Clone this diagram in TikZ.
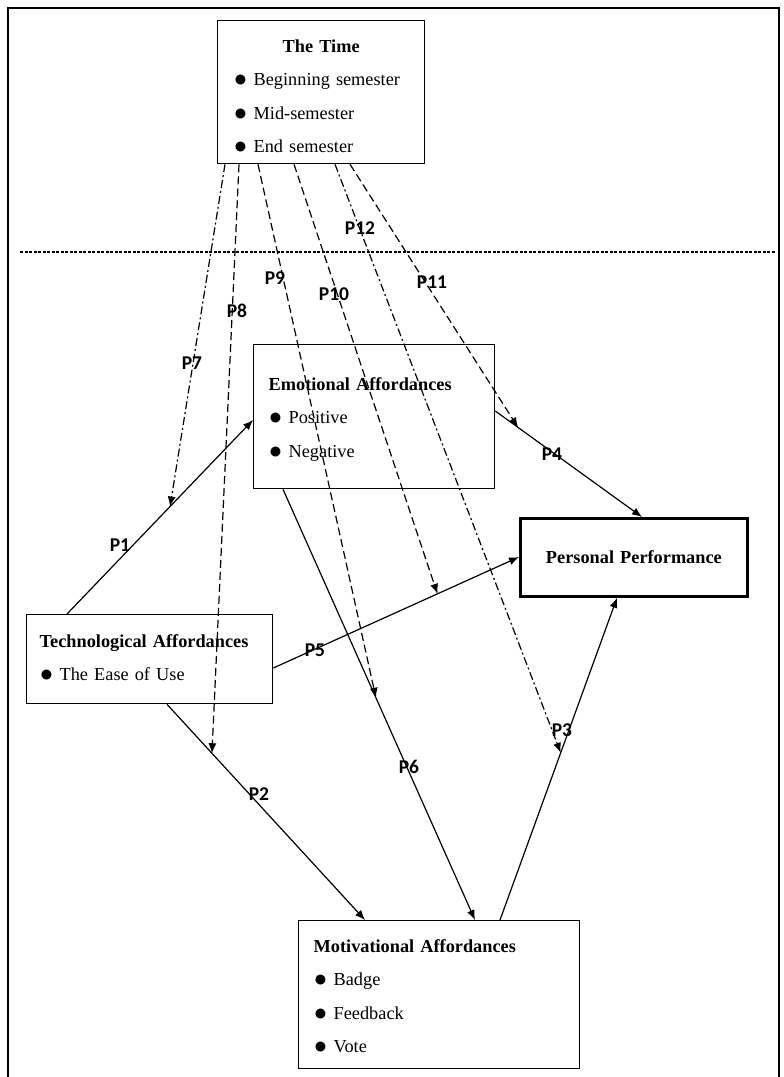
\documentclass[tikz,border=0pt]{standalone}
\usepackage{fontspec}
\setmainfont{Liberation Serif}
\newfontfamily\lblfont{Carlito}
\usetikzlibrary{arrows.meta,positioning}

\newcommand{\bul}{\makebox[20pt][l]{\raisebox{-1pt}{\fontsize{23}{23}\selectfont ●}}}

\begin{document}
\begin{tikzpicture}[x=1pt, y=-1pt,
    box/.style={draw, line width=1.3pt, anchor=north west, inner ysep=0pt, align=left,
        font=\fontsize{18.3}{33.3}\selectfont},
    conn/.style={-{Latex[length=10pt,width=8pt]}, line width=1.2pt},
    dashconn/.style={conn, dash pattern=on 8pt off 4pt},
    dotconn/.style={conn, dash pattern=on 8pt off 3pt on 2pt off 3pt},
    plabel/.style={font=\lblfont\bfseries\fontsize{19.5}{20}\selectfont}]
    \useasboundingbox (0,0) rectangle (784,1077);

    % frame and time divider
    \draw[line width=1.3pt] (8,1077) -- (8,8) -- (779,8) -- (779,1077);
    \draw[line width=1.1pt, dash pattern=on 3pt off 1.5pt] (20,252) -- (775,252);

    \node (time) [box, inner xsep=16pt, text width=175pt, text height=32pt, text depth=111pt] at (217,20)
        {\makebox[\linewidth]{\textbf{The Time}}\\ \bul Beginning semester\\ \bul Mid-semester\\ \bul End semester};
    \node (emo) [box, inner xsep=15pt, text width=211pt, text height=46pt, text depth=98pt] at (253,344)
        {\textbf{Emotional Affordances}\\ \bul Positive\\ \bul Negative};
    \node (tech) [box, inner xsep=13pt, text width=220pt, text height=33pt, text depth=56pt] at (26,614)
        {\textbf{Technological Affordances}\\ \bul The Ease of Use};
    \node (mot) [box, inner xsep=15pt, text width=251pt, text height=32pt, text depth=116pt] at (298,920)
        {\textbf{Motivational Affordances}\\ \bul Badge\\ \bul Feedback\\ \bul Vote};
    \node (perf) [box, line width=2.8pt, align=center, inner xsep=0pt, text width=227pt, text height=45pt, text depth=33pt] at (519,517)
        {\textbf{Personal Performance}};

    % main paths
    \draw[conn] ([xshift=41pt]tech.north west) -- coordinate[pos=0.554] (p7end) ([yshift=-76pt]emo.north west);
    \draw[conn] ([xshift=141pt]tech.south west) -- coordinate[pos=0.227] (p8end) ([xshift=67pt]mot.north west);
    \draw[conn] ([xshift=202pt]mot.north west) -- coordinate[pos=0.519] (p12end) ([xshift=98pt]perf.south west);
    \draw[conn] ([yshift=-67pt]emo.north east) -- coordinate[pos=0.155] (p11end) ([xshift=123pt]perf.north west);
    \draw[conn] ([yshift=-54pt]tech.north east) -- coordinate[pos=0.668] (p10end) ([yshift=-40pt]perf.north west);
    \draw[conn] ([xshift=30pt]emo.south west) -- coordinate[pos=0.484] (p9end) ([xshift=177pt]mot.north west);

    % time moderations
    \draw[dotconn] ([xshift=8pt]time.south west) -- (p7end);
    \draw[dashconn] ([xshift=22pt]time.south west) -- (p8end);
    \draw[dashconn] ([xshift=41pt]time.south west) -- (p9end);
    \draw[dashconn] ([xshift=77pt]time.south west) -- (p10end);
    \draw[dashconn] ([xshift=133pt]time.south west) -- (p11end);
    \draw[dotconn] ([xshift=118pt]time.south west) -- (p12end);

    \node (lp1) [plabel] at (120,545) {P1};
    \node (lp2) [plabel] at (259,794) {P2};
    \node (lp3) [plabel] at (562,730) {P3};
    \node (lp4) [plabel] at (552,454) {P4};
    \node (lp5) [plabel] at (315,650) {P5};
    \node (lp6) [plabel] at (409,767) {P6};
    \node (lp7) [plabel] at (192,363) {P7};
    \node (lp8) [plabel] at (237,311) {P8};
    \node (lp9) [plabel] at (275,278) {P9};
    \node (lp10) [plabel] at (334,294) {P10};
    \node (lp11) [plabel] at (432,282) {P11};
    \node (lp12) [plabel] at (360,228) {P12};
\end{tikzpicture}
\end{document}
